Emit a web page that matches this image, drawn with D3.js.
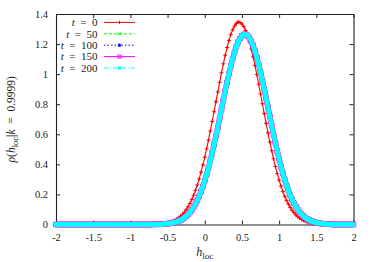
<!DOCTYPE html>
<html>
<head>
<meta charset="utf-8">
<script src="https://cdn.jsdelivr.net/npm/d3@7"></script>
<style>
  body { margin: 0; background: #fff; }
  svg { display: block; }
  text { font-family: "Liberation Serif", "DejaVu Serif", serif; fill: #1a1a1a; }
</style>
</head>
<body>
<div id="chart"></div>
<script>
// h_loc sample points, -2 ... 2 in steps of 0.025 (161 points)
const hLoc = d3.range(161).map(i => -2 + i * 0.025);

// rho(h_loc | k = 0.9999) at t = 0
const rhoT0 = [
  0,0,0,0,0,0,0,0,0,0, 0,0,0,0,0,0,0,0,0,0, 0,0,0,0,0,0,0,0,0,0,
  0,0,0,0,0,0,0,0,0,0, 0,0,0,0,0,0,0,0,0,0, 0.001,0.001,
  0.001,0.002,0.002,0.003,0.004,0.005,0.007,0.009,0.011,0.014,
  0.018,0.023,0.029,0.036,0.044,0.055,0.067,0.081,0.098,0.117,
  0.140,0.165,0.194,0.227,0.263,0.303,0.348,0.396,0.447,0.503,
  0.561,0.622,0.685,0.750,0.816,0.881,0.946,1.009,1.069,1.126,
  1.177,1.223,1.263,1.295,1.320,1.337,1.348,1.343,1.334,1.316,
  1.290,1.256,1.215,1.167,1.115,1.058,0.997,0.933,0.868,0.803,
  0.737,0.673,0.610,0.549,0.491,0.437,0.386,0.338,0.295,0.256,
  0.220,0.188,0.160,0.135,0.113,0.094,0.078,0.064,0.052,0.043,
  0.034,0.027,0.022,0.017,0.014,0.011,0.008,0.006,0.005,0.004,
  0.003,0.002,0.002,
  0.001,0.001, 0,0,0,0,0,0,0,0,0,0,0,0,0,0
];

// t = 200
const rhoT200 = [
  0,0,0,0,0,0,0,0,0,0, 0,0,0,0,0,0,0,0,0,0, 0,0,0,0,0,0,0,0,0,0,
  0,0,0,0,0,0,0,0,0,0, 0,0,0,0,0,0,0,0,0,0, 0,0,
  0.001,0.001,0.001,0.001,0.002,0.002,0.003,0.004,0.005,0.007,
  0.009,0.012,0.015,0.019,0.023,0.029,0.036,0.045,0.055,0.066,
  0.080,0.096,0.115,0.136,0.161,0.188,0.219,0.253,0.291,0.333,
  0.377,0.425,0.477,0.531,0.588,0.646,0.707,0.767,0.828,0.888,
  0.946,1.002,1.055,1.103,1.146,1.183,1.214,1.238,1.255,1.264,
  1.264,1.257,1.242,1.220,1.190,1.154,1.112,1.065,1.013,0.958,
  0.900,0.840,0.779,0.719,0.658,0.599,0.542,0.488,0.436,0.387,
  0.341,0.299,0.261,0.226,0.194,0.166,0.141,0.119,0.100,0.083,
  0.069,0.057,0.046,0.038,0.031,0.024,0.020,0.016,0.012,0.010,
  0.007,0.006,0.004,0.003,0.003,0.002,0.001,
  0,0,0,0,0,0,0,0,0,0,0,0
];

// t = 50, 100, 150 cannot be told apart from t = 200 in the picture
const rhoT50 = rhoT200;
const rhoT100 = rhoT200;
const rhoT150 = rhoT200;

const times = ['0', '50', '100', '150', '200'];
const rhoByTime = [rhoT0, rhoT50, rhoT100, rhoT150, rhoT200];

const xTicks = [-2, -1.5, -1, -0.5, 0, 0.5, 1, 1.5, 2];
const yTicks = [0, 0.2, 0.4, 0.6, 0.8, 1, 1.2, 1.4];

// gnuplot-like line styles
const styles = [
  { color: '#ff0000', dash: null,    width: 1.1, band: 0,   marker: 'plus' },
  { color: '#00ff00', dash: '3,2',   width: 1,   band: 0,   marker: 'cross' },
  { color: '#0000ff', dash: '1.5,2', width: 1,   band: 0,   marker: 'star' },
  { color: '#ff00ff', dash: null,    width: 1,   band: 5.4, marker: 'box' },
  { color: '#00ffff', dash: '4,2,1,2', width: 1, band: 4.6, marker: 'filledBox' },
];

const width = 374, height = 262;
const margin = { top: 14, right: 20.5, bottom: 37.5, left: 56 };

const svg = d3.select('#chart').append('svg')
  .attr('width', width)
  .attr('height', height);

const x = d3.scaleLinear().domain([-2, 2]).range([margin.left, width - margin.right]);
const y = d3.scaleLinear().domain([0, 1.4]).range([height - margin.bottom, margin.top]);

function markerPath(kind, s) {
  switch (kind) {
    case 'plus': return `M${-s},0H${s}M0,${-s}V${s}`;
    case 'cross': return `M${-s},${-s}L${s},${s}M${-s},${s}L${s},${-s}`;
    case 'star': return `M${-s},0H${s}M0,${-s}V${s}M${-s},${-s}L${s},${s}M${-s},${s}L${s},${-s}`;
    default: return `M${-s},${-s}H${s}V${s}H${-s}Z`;
  }
}

function drawMarker(sel, kind, color, s) {
  const p = sel.append('path').attr('d', markerPath(kind, s));
  if (kind === 'filledBox') p.attr('fill', color).attr('stroke', 'none');
  else p.attr('fill', 'none').attr('stroke', color).attr('stroke-width', 1);
}

// axes: ticks inward, mirrored on top and right
const axisColor = '#222';
const fmt = d => String(d);

const gx = svg.append('g')
  .attr('transform', `translate(0,${y(0)})`)
  .call(d3.axisBottom(x).tickValues(xTicks).tickFormat(fmt).tickSize(-4).tickSizeOuter(0).tickPadding(9));
const gy = svg.append('g')
  .attr('transform', `translate(${x(-2)},0)`)
  .call(d3.axisLeft(y).tickValues(yTicks).tickFormat(fmt).tickSize(-4).tickSizeOuter(0).tickPadding(8));
const gt = svg.append('g')
  .attr('transform', `translate(0,${y(1.4)})`)
  .call(d3.axisTop(x).tickValues(xTicks).tickFormat('').tickSize(-4).tickSizeOuter(0));
const gr = svg.append('g')
  .attr('transform', `translate(${x(2)},0)`)
  .call(d3.axisRight(y).tickValues(yTicks).tickFormat('').tickSize(-4).tickSizeOuter(0));

[gx, gy, gt, gr].forEach(g => {
  g.selectAll('.domain').attr('stroke', axisColor).attr('stroke-width', 1.1);
  g.selectAll('.tick line').attr('stroke', axisColor);
  g.selectAll('.tick text').attr('font-size', 10.5).attr('fill', '#1a1a1a')
    .style('font-family', '"Liberation Serif", serif');
});

// curves
const line = d3.line().x(d => x(d[0])).y(d => y(d[1]));

rhoByTime.forEach((rho, i) => {
  const st = styles[i];
  const pts = hLoc.map((h, j) => [h, rho[j]]);
  const g = svg.append('g');
  if (st.band) {
    g.append('path').datum(pts).attr('d', line)
      .attr('fill', 'none').attr('stroke', st.color)
      .attr('stroke-width', st.band).attr('stroke-linejoin', 'round');
  }
  g.append('path').datum(pts).attr('d', line)
    .attr('fill', 'none').attr('stroke', st.color)
    .attr('stroke-width', st.width)
    .attr('stroke-dasharray', st.dash);
  g.selectAll('g.pt').data(pts).join('g')
    .attr('class', 'pt')
    .attr('transform', d => `translate(${x(d[0])},${y(d[1])})`)
    .each(function () { drawMarker(d3.select(this), st.marker, st.color, st.band ? 2.3 : 2); });
});

// legend
const legend = svg.append('g');
times.forEach((t, i) => {
  const st = styles[i];
  const ry = 22.4 + i * 11.4;
  const txt = legend.append('text')
    .attr('x', 97.5).attr('y', ry).attr('dy', '0.35em')
    .attr('text-anchor', 'end').attr('font-size', 11);
  txt.append('tspan').attr('font-style', 'italic').text('t');
  txt.append('tspan').text('\u2002=\u2002' + t);
  legend.append('line')
    .attr('x1', 104).attr('x2', 135).attr('y1', ry).attr('y2', ry)
    .attr('stroke', st.color).attr('stroke-width', 1)
    .attr('stroke-dasharray', st.dash);
  drawMarker(legend.append('g').attr('transform', `translate(119.5,${ry})`),
    st.marker, st.color, 1.6);
});

// axis titles
const xl = svg.append('text')
  .attr('x', x(0)).attr('y', 256)
  .attr('text-anchor', 'middle').attr('font-size', 12);
xl.append('tspan').attr('font-style', 'italic').text('h');
xl.append('tspan').attr('font-size', 9).attr('dy', 3).text('loc');

const yl = svg.append('text')
  .attr('transform', `translate(15,${y(0.7)}) rotate(-90)`)
  .attr('text-anchor', 'middle').attr('font-size', 11.5);
yl.append('tspan').attr('font-style', 'italic').text('ρ');
yl.append('tspan').text('(');
yl.append('tspan').attr('font-style', 'italic').text('h');
yl.append('tspan').attr('font-size', 8.5).attr('dy', 3).text('loc');
yl.append('tspan').attr('dy', -3).text('|');
yl.append('tspan').attr('font-style', 'italic').text('k');
yl.append('tspan').text('\u2002=\u20020.9999)');
</script>
</body>
</html>
